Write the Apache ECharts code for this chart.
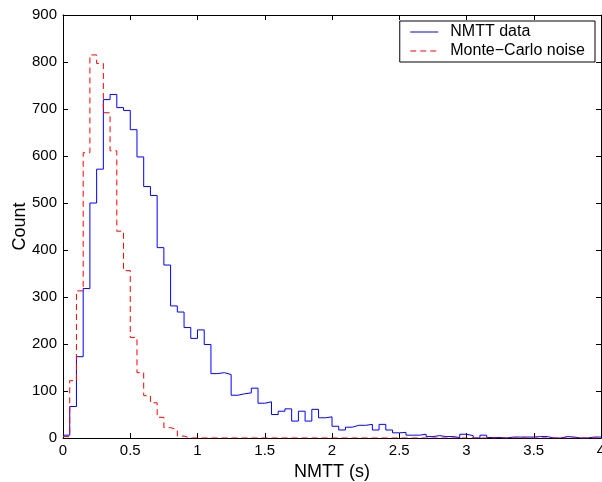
<!DOCTYPE html>
<html>
<head>
<meta charset="utf-8">
<script src="https://cdn.jsdelivr.net/npm/echarts@6/dist/echarts.min.js"></script>
<style>
  html, body {margin: 0; padding: 0; background: #fff;}
  #chart {width: 602px; height: 482px;}
</style>
</head>
<body>
<div id="chart"></div>
<script>
// histogram bins: 0 .. 4 s, 0.05 s wide
const binWidth = 0.05;
const nmttCounts = [
  6, 67, 173, 318, 500, 572, 720, 731, 703, 697,
  656, 598, 535, 516, 405, 368, 281, 268, 235, 212,
  230, 199, 137, 139, 135, 91, 94, 96, 106, 74,
  77, 50, 57, 62, 36, 57, 36, 61, 43, 45,
  25, 17, 23, 27, 27, 29, 17, 29, 17, 11,
  12, 6, 6, 8, 3, 5, 3, 3, 1, 8,
  5, 0, 6, 1, 1, 0, 2, 2, 2, 2,
  3, 3, 0, 0, 3, 2, 0, 0, 2, 2
];
const noiseCounts = [
  3, 122, 313, 607, 815, 797, 692, 611, 440, 356,
  214, 139, 90, 75, 44, 22, 18, 4, 0, 0,
  0, 0, 0, 0, 0, 0, 0, 0, 0, 0,
  0, 0, 0, 0, 0, 0, 0, 0, 0, 0,
  0, 0, 0, 0, 0, 0, 0, 0, 0, 0,
  0, 0, 0, 0, 0, 0, 0, 0, 0, 0,
  0, 0, 0, 0, 0, 0, 0, 0, 0, 0,
  0, 0, 0, 0, 0, 0, 0, 0, 0, 0
];
const seriesNames = ['NMTT data', 'Monte\u2212Carlo noise'];
const xRange = {min: 0, max: 4, interval: 0.5};
const yRange = {min: 0, max: 900, interval: 100};

// bin edges -> points for a stairs line
const toSteps = counts => {
  const pts = counts.map((c, i) => [+(i * binWidth).toFixed(2), c]);
  pts.push([+(counts.length * binWidth).toFixed(2), counts[counts.length - 1]]);
  return pts;
};

const font = 'Liberation Sans, Arial, Helvetica, sans-serif';
const black = '#000';
const boxAxis = {
  ...xRange,
  type: 'value',
  axisLine: {show: true, onZero: false, lineStyle: {color: black, width: 1}},
  axisTick: {show: true, inside: true, length: 5, lineStyle: {color: black}},
  splitLine: {show: false}
};

const myChart = echarts.init(document.getElementById('chart'), null, {renderer: 'canvas'});
myChart.setOption({
  animation: false,
  backgroundColor: '#fff',
  textStyle: {fontFamily: font},
  grid: {left: 63, right: 1, top: 15, bottom: 44, containLabel: false, outerBoundsMode: 'none'},
  legend: {
    orient: 'vertical',
    right: 7,
    top: 21,
    data: seriesNames,
    backgroundColor: '#fff',
    borderColor: black,
    borderWidth: 1,
    padding: [3, 10, 3, 10],
    itemGap: 3,
    itemWidth: 28,
    itemHeight: 16,
    itemStyle: {opacity: 0},
    lineStyle: {width: 1},
    textStyle: {fontSize: 16, color: black, fontFamily: font, padding: [0, 0, 0, 7]}
  },
  xAxis: [
    {
      ...boxAxis,
      position: 'bottom',
      name: 'NMTT (s)',
      nameLocation: 'middle',
      nameGap: 25,
      nameMoveOverlap: false,
      nameTextStyle: {fontSize: 18, color: black, fontFamily: font},
      axisLabel: {show: true, margin: 5, fontSize: 15, color: black, fontFamily: font, showMaxLabel: true}
    },
    {...boxAxis, position: 'top', axisLabel: {show: false}}
  ],
  yAxis: [
    {
      ...boxAxis,
      ...yRange,
      position: 'left',
      name: 'Count',
      nameLocation: 'middle',
      nameGap: 34,
      nameMoveOverlap: false,
      nameTextStyle: {fontSize: 18, color: black, fontFamily: font},
      axisLabel: {show: true, margin: 6, fontSize: 15, color: black, fontFamily: font}
    },
    {...boxAxis, ...yRange, position: 'right', axisLabel: {show: false}}
  ],
  series: [
    {name: seriesNames[0], data: toSteps(nmttCounts), color: '#0000ff', lineStyle: {type: 'solid'}},
    {name: seriesNames[1], data: toSteps(noiseCounts), color: '#ff0000', lineStyle: {type: [6, 4]}}
  ].map(obj => ({
    ...obj,
    type: 'line',
    step: 'end',
    symbol: 'none',
    lineStyle: {...obj.lineStyle, width: 1, color: obj.color}
  }))
});
</script>
</body>
</html>
